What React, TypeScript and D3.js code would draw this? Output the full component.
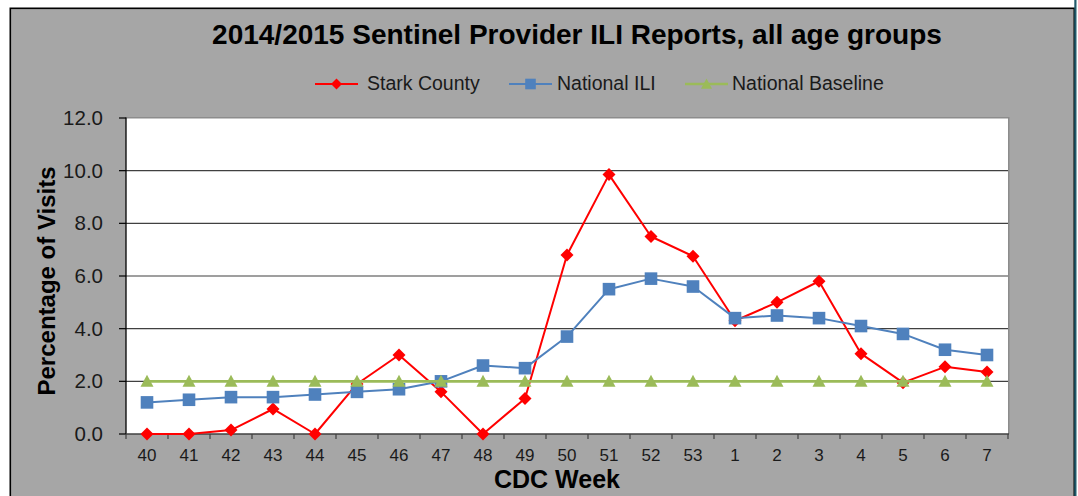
import React from 'react';
import * as d3 from 'd3';

// CDC weeks, 2014/2015 season
const weeks = ['40', '41', '42', '43', '44', '45', '46', '47', '48', '49', '50', '51', '52', '53', '1', '2', '3', '4', '5', '6', '7'];
const starkCounty = [0.0, 0.0, 0.15, 0.95, 0.0, 1.9, 3.0, 1.6, 0.0, 1.35, 6.8, 9.85, 7.5, 6.75, 4.3, 5.0, 5.8, 3.05, 1.95, 2.55, 2.35];
const nationalIli = [1.2, 1.3, 1.4, 1.4, 1.5, 1.6, 1.7, 2.0, 2.6, 2.5, 3.7, 5.5, 5.9, 5.6, 4.4, 4.5, 4.4, 4.1, 3.8, 3.2, 3.0];
const nationalBaseline = [2.0, 2.0, 2.0, 2.0, 2.0, 2.0, 2.0, 2.0, 2.0, 2.0, 2.0, 2.0, 2.0, 2.0, 2.0, 2.0, 2.0, 2.0, 2.0, 2.0, 2.0];
const yTicks = [0, 2, 4, 6, 8, 10, 12];

const width = 1078;
const height = 496;
const margin = { top: 118, right: 70, bottom: 62, left: 126 };
const font = '"Liberation Sans", Arial, sans-serif';

const RED = '#FF0000';
const BLUE = '#4F81BD';
const GREEN = '#9BBB59';

type Shape = 'diamond' | 'square' | 'triangle';

const markerPath = (shape: Shape, cx: number, cy: number, r: number) => {
    if (shape === 'diamond') return `M${cx},${cy - r}L${cx + r},${cy}L${cx},${cy + r}L${cx - r},${cy}Z`;
    if (shape === 'square') return `M${cx - r},${cy - r}h${2 * r}v${2 * r}h${-2 * r}Z`;
    return `M${cx},${cy - r}L${cx + r},${cy + r * 0.85}L${cx - r},${cy + r * 0.85}Z`;
};

const series = [
    { name: 'Stark County', values: starkCounty, color: RED, shape: 'diamond' as Shape, r: 6.5, lr: 5.5, lw: 2, legendX: 315, textX: 367 },
    { name: 'National ILI', values: nationalIli, color: BLUE, shape: 'square' as Shape, r: 6.3, lr: 5.3, lw: 2, legendX: 509, textX: 557 },
    { name: 'National Baseline', values: nationalBaseline, color: GREEN, shape: 'triangle' as Shape, r: 6.5, lr: 5.5, lw: 2.6, legendX: 685, textX: 732 },
];

export default function App() {
    const x = d3.scaleBand().domain(weeks).range([margin.left, width - margin.right]);
    const y = d3.scaleLinear().domain([0, 12]).range([height - margin.bottom, margin.top]);
    const cx = (w: string) => (x(w) ?? 0) + x.bandwidth() / 2;
    const x0 = margin.left;
    const x1 = width - margin.right;
    const yBottom = y(0);
    const yTop = y(12);

    const line = d3.line<number>()
        .x((_, i) => cx(weeks[i]))
        .y(d => y(d));

    // band edges for x ticks
    const xEdges = weeks.map(w => x(w) ?? 0).concat([x1]);

    return (
        <svg width={width} height={height} style={{ position: 'absolute', left: 0, top: 0 }} fontFamily={font}>
            <rect x={0} y={0} width={width} height={height} fill="#fff" />
            <rect x={10.3} y={8.3} width={1064} height={500} fill="#A6A6A6" stroke="#000" strokeWidth={1.6} />
            <rect x={1074.3} y={0} width={2.2} height={height} fill="#215B6B" />

            {/* title */}
            <text x={577} y={44} textAnchor="middle" fontSize={28} fontWeight="bold" fill="#000">
                2014/2015 Sentinel Provider ILI Reports, all age groups
            </text>

            {/* legend */}
            {series.map(s => (
                <g key={s.name}>
                    <line x1={s.legendX} x2={s.legendX + 43} y1={84} y2={84} stroke={s.color} strokeWidth={s.lw} />
                    <path d={markerPath(s.shape, s.legendX + 21.5, 84, s.lr)} fill={s.color} />
                    <text x={s.textX} y={89.5} fontSize={19.5} fill="#1a1a1a">{s.name}</text>
                </g>
            ))}

            {/* plot area */}
            <rect x={x0} y={yTop - 1} width={x1 - x0 + 1.5} height={yBottom - yTop + 1} fill="#8C8C8C" />
            <rect x={x0} y={yTop + 0.5} width={x1 - x0} height={yBottom - yTop - 0.5} fill="#fff" />

            {/* gridlines */}
            {yTicks.filter(t => t > 0 && t < 12).map(t => (
                <line key={t} x1={x0} x2={x1} y1={y(t)} y2={y(t)} stroke="#404040" strokeWidth={1.2} />
            ))}

            {/* axes */}
            <line x1={x0} x2={x0} y1={yTop - 0.5} y2={yBottom} stroke="#000" strokeWidth={1.3} />
            <line x1={x0} x2={x1 + 1} y1={yBottom} y2={yBottom} stroke="#404040" strokeWidth={1.3} />
            {yTicks.map(t => (
                <g key={t}>
                    <line x1={x0 - 7} x2={x0} y1={y(t)} y2={y(t)} stroke="#000" strokeWidth={1.2} />
                    <text x={103} y={y(t) + 7} textAnchor="end" fontSize={20.5} fill="#1a1a1a">{t.toFixed(1)}</text>
                </g>
            ))}
            {xEdges.map((e, i) => (
                <line key={i} x1={e} x2={e} y1={yBottom} y2={yBottom + 5} stroke="#404040" strokeWidth={1.2} />
            ))}
            {weeks.map(w => (
                <text key={w} x={cx(w)} y={461} textAnchor="middle" fontSize={17} fill="#1a1a1a">{w}</text>
            ))}

            {/* axis titles */}
            <text x={557} y={488} textAnchor="middle" fontSize={25} fontWeight="bold" fill="#000">CDC Week</text>
            <text transform={`translate(55,${(yTop + yBottom) / 2 + 5}) rotate(-90)`} textAnchor="middle" fontSize={24} fontWeight="bold" fill="#000">
                Percentage of Visits
            </text>

            {/* series */}
            {series.map(s => (
                <g key={s.name}>
                    <path d={line(s.values) ?? ''} fill="none" stroke={s.color} strokeWidth={s.lw} strokeLinejoin="round" />
                    {s.values.map((v, i) => (
                        <path key={i} d={markerPath(s.shape, cx(weeks[i]), y(v), s.r)} fill={s.color} />
                    ))}
                </g>
            ))}
        </svg>
    );
}
